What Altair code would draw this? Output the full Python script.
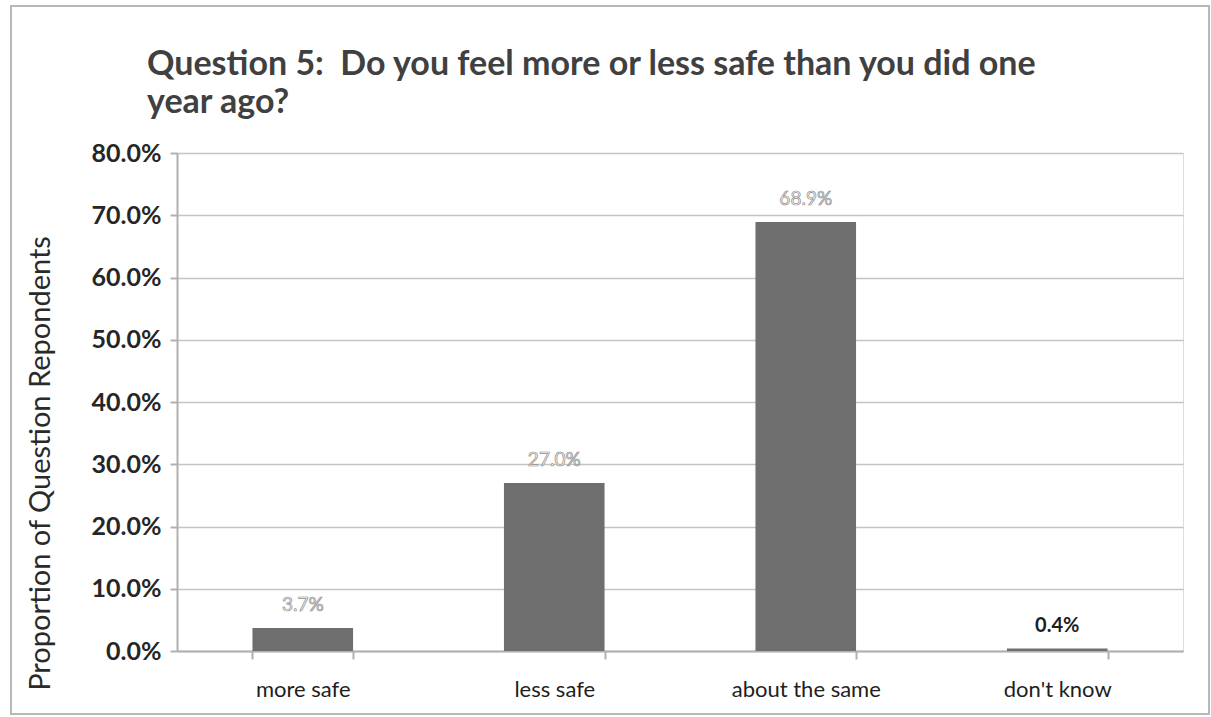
import altair as alt
import pandas as pd

# Survey responses, Question 5
categories = ["more safe", "less safe", "about the same", "don't know"]
shares = [0.037, 0.270, 0.689, 0.004]
# answers whose value label is printed in dark bold type
dark_labels = ["don't know"]

FONT = "Lato"

df = pd.DataFrame({"answer": categories, "share": shares})
df["dark"] = df["answer"].isin(dark_labels)

x_enc = alt.X(
    "answer:N",
    sort=categories,
    scale=alt.Scale(paddingInner=0.6, paddingOuter=0.3),
    axis=alt.Axis(
        title=None,
        labelAngle=0,
        labelFontSize=22,
        labelColor="#1e1e1e",
        labelFont=FONT,
        labelPadding=20,
        tickBand="extent",
        tickSize=8,
        tickColor="#b0b0b0",
        tickWidth=2,
        domainColor="#b0b0b0",
        domainWidth=2,
        grid=False,
    ),
)
y_enc = alt.Y(
    "share:Q",
    scale=alt.Scale(domain=[0, 0.8]),
    axis=alt.Axis(
        title="Proportion of Question Repondents",
        titleFont=FONT,
        titleFontSize=29,
        titleFontWeight="normal",
        titleColor="#2a2a2a",
        titleAnchor="middle",
        titleX=-137,
        titleY=310,
        titleBaseline="middle",
        titleAngle=-90,
        format=".1%",
        values=[i / 10 for i in range(9)],
        labelFont=FONT,
        labelFontSize=25,
        labelFontWeight="bold",
        labelColor="#262626",
        labelPadding=9,
        tickSize=7,
        tickColor="#b0b0b0",
        tickWidth=2,
        domainColor="#b0b0b0",
        domainWidth=2,
        gridColor="#c4c4c4",
        gridWidth=1.6,
    ),
)

bars = alt.Chart(df).mark_bar(color="#6e6e6e").encode(x=x_enc, y=y_enc)

light_text = (
    alt.Chart(df)
    .transform_filter("!datum.dark")
    .mark_text(
        baseline="bottom",
        dy=-13,
        font=FONT,
        fontSize=19,
        fill="#fafafa",
        stroke="#8c8c8c",
        strokeWidth=0.7,
    )
    .encode(x=alt.X("answer:N", sort=categories), y="share:Q", text=alt.Text("share:Q", format=".1%"))
)

dark_text = (
    alt.Chart(df)
    .transform_filter("datum.dark")
    .mark_text(
        baseline="bottom",
        dy=-13,
        font=FONT,
        fontSize=20,
        fontWeight="bold",
        color="#1e1e1e",
    )
    .encode(x=alt.X("answer:N", sort=categories), y="share:Q", text=alt.Text("share:Q", format=".1%"))
)

# thin frame around the whole chart area
frame = (
    alt.Chart(pd.DataFrame({"k": [0]}))
    .mark_rect(fill=None, stroke="#b8b8b8", strokeWidth=2)
    .encode(
        x=alt.value(-166),
        x2=alt.value(1032),
        y=alt.value(-147),
        y2=alt.value(561),
    )
)

chart = (
    alt.layer(frame, bars, light_text, dark_text)
    .properties(
        width=1006,
        height=498,
        autosize=alt.AutoSizeParams(type="none"),
        padding={"left": 177, "top": 153, "right": 28, "bottom": 66},
        title=alt.TitleParams(
            text=["Question 5:\u00a0 Do you feel more or less safe than you did one", "year ago?"],
            anchor="start",
            font=FONT,
            fontSize=34,
            fontWeight="bold",
            color="#404040",
            dx=137,
            dy=115,
            offset=0,
            lineHeight=38,
        ),
    )
    .configure_view(stroke=None)
    .configure(background="white")
)

chart.save("out.html", embed_options={"renderer": "svg", "actions": False})
